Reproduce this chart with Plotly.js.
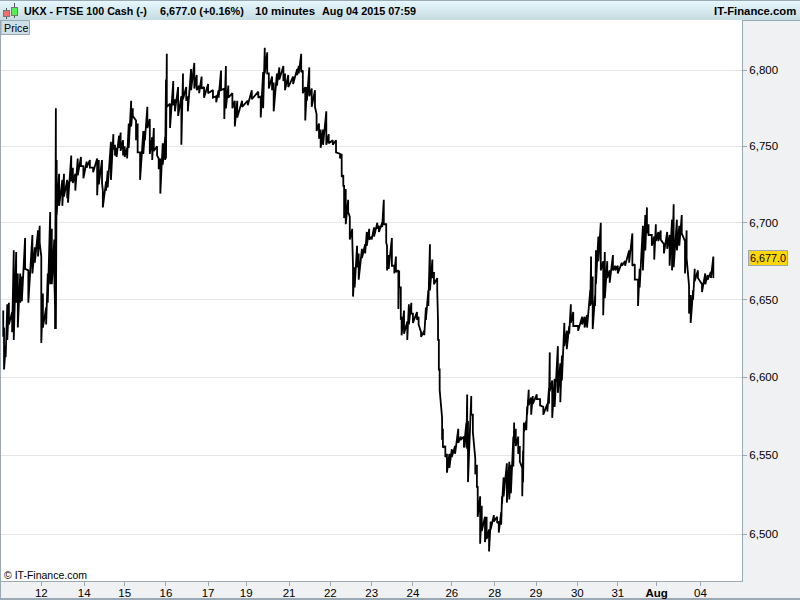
<!DOCTYPE html>
<html><head><meta charset="utf-8">
<script src="https://cdn.plot.ly/plotly-3.0.1.min.js"></script>
<style>
html,body{margin:0;padding:0;width:800px;height:600px;overflow:hidden;background:#eff1f3}
.abs{position:absolute;box-sizing:border-box}
#plot{position:absolute;left:0;top:0;width:800px;height:600px}
</style></head><body>
<div class="abs" style="left:0;top:0;width:800px;height:21px;background:linear-gradient(#e6f8fc,#c6dbe2);border-top:1px solid #9aa9b3;border-bottom:1px solid #9aa9b3"></div>
<div class="abs" style="left:0;top:20px;width:1px;height:580px;background:#9aa9b3"></div>
<div class="abs" style="left:0;top:598px;width:800px;height:2px;background:#9aa9b3"></div>
<div class="abs" style="left:6px;top:8px;width:1px;height:11px;background:#555"></div>
<div class="abs" style="left:3px;top:10px;width:7px;height:7px;background:#f07070;border:1px solid #777"></div>
<div class="abs" style="left:14px;top:3px;width:1px;height:15px;background:#555"></div>
<div class="abs" style="left:11px;top:7px;width:7px;height:9px;background:#55ee55;border:1px solid #777"></div>
<div id="plot"></div>
<script>
const bars = [
4,5,7,9,11,15,17,20,22,25, 27,31,35,40,43,47,49,51,53,57,
59,62,64,67,68,69,70,73,77,79, 83,84,88,90,93,96,100,103,107,111,
115,120,122,126,127,131,133,137,140,142, 144,147,149,152,154,157,159,162,164,168,
170,173,177,179,182,185,188,190,194,196, 198,201,204,205,206,210,214,216,220,224,
226,230,232,236,240,243,246,249,252,257, 263,267,270,273,277,279,282,287,290,293,
299,306,311,319,322,325,327,330,332,336, 338,342,345,350,352,356,362,367,369,372,
374,377,379,382,385,389,391,394,396,399, 403,406,411,415,420,422,424,425,427,430,
432,435,436,438,441,443,447,451,453,456, 459,462,466,468,472,474,477,478,480,484,
487,489,492,493,495,496,499,503,505,508, 510,515,517,520,524,526,529,531,534,536,
540,541,542,543,546,547,550,552,555,558, 562,566,569,573,576,577,578,582,584,587,
589,590,593,595,599,601,604,606,610,614, 616,619,620,622,626,629,631,634,635,637,
640,642,645,646,647,650,651,653,656,658, 663,667,671,676,678,679,682,685,689,692,
694,697,700,703,705,708,714,719,722,725, 729,730,732,735,736,739,742,745,747,750,
753,757,760,763,768,772,777,781,784,788, 790,794,797,799,801,805,808,810,813,816,
820,824,827,830,832,836,839,842,846,848, 851,853,856,858,862,867,871,874,878,881
];
const highs = [
6643,6632,6620,6647,6648,6642,6682,6681,6667,6667, 6665,6690,6669,6692,6684,6695,6698,6678,6654,6645,
6667,6707,6696,6689,6644,6775,6741,6732,6728,6732, 6728,6727,6744,6736,6732,6742,6743,6737,6740,6741,
6736,6742,6741,6741,6721,6727,6734,6753,6758,6751, 6749,6757,6759,6754,6750,6749,6765,6780,6775,6767,
6765,6746,6760,6760,6776,6768,6756,6762,6750,6742, 6742,6752,6756,6794,6811,6778,6793,6781,6789,6783,
6798,6789,6783,6801,6805,6797,6790,6796,6789,6791, 6787,6783,6787,6800,6788,6803,6790,6785,6780,6780,
6780,6780,6787,6786,6783,6799,6815,6812,6798,6796, 6792,6798,6802,6803,6798,6797,6796,6801,6803,6811,
6800,6789,6789,6802,6788,6787,6771,6765,6761,6761, 6773,6758,6754,6754,6745,6745,6731,6724,6722,6715,
6704,6696,6671,6671,6685,6680,6683,6686,6694,6696, 6691,6697,6700,6698,6700,6715,6699,6685,6679,6690,
6672,6678,6669,6669,6658,6639,6643,6636,6647,6648, 6641,6642,6639,6629,6630,6645,6656,6686,6676,6668,
6664,6636,6624,6605,6574,6567,6556,6551,6551,6554, 6556,6567,6562,6562,6571,6589,6572,6588,6576,6548,
6544,6530,6524,6518,6511,6511,6503,6508,6512,6511, 6508,6514,6524,6536,6545,6546,6544,6562,6571,6567,
6562,6556,6542,6553,6571,6572,6581,6592,6587,6588, 6589,6586,6581,6583,6593,6616,6598,6599,6620,6609,
6614,6635,6630,6633,6647,6642,6633,6639,6639,6640, 6656,6678,6665,6653,6682,6691,6700,6675,6681,6675,
6669,6679,6672,6672,6674,6675,6682,6693,6673,6663, 6670,6698,6705,6710,6699,6692,6691,6699,6694,6695,
6686,6694,6692,6702,6712,6702,6698,6705,6688,6695, 6659,6653,6656,6670,6669,6660,6667,6666,6668,6678
];
const lows = [
6626,6605,6613,6624,6634,6629,6624,6648,6632,6648, 6649,6670,6648,6667,6674,6678,6687,6622,6632,6634,
6648,6660,6660,6667,6631,6631,6705,6711,6711,6717, 6716,6713,6727,6726,6721,6731,6737,6729,6736,6736,
6733,6718,6725,6726,6710,6721,6723,6728,6748,6744, 6743,6749,6747,6744,6743,6742,6749,6763,6770,6754,
6746,6728,6745,6754,6762,6745,6741,6747,6744,6735, 6719,6738,6741,6742,6776,6762,6777,6773,6770,6751,
6781,6780,6773,6787,6788,6787,6785,6788,6782,6785, 6782,6779,6782,6787,6768,6775,6782,6775,6763,6769,
6776,6777,6781,6782,6769,6775,6798,6798,6788,6787, 6773,6790,6794,6793,6787,6789,6791,6797,6798,6799,
6785,6767,6780,6783,6776,6776,6760,6755,6749,6751, 6751,6752,6751,6746,6742,6730,6724,6703,6699,6707,
6689,6691,6652,6658,6671,6663,6677,6680,6685,6689, 6689,6691,6696,6694,6697,6699,6687,6669,6670,6672,
6667,6668,6644,6658,6637,6627,6628,6624,6634,6641, 6635,6637,6634,6626,6627,6637,6646,6656,6664,6660,
6656,6624,6605,6592,6560,6555,6549,6539,6542,6549, 6551,6558,6560,6555,6555,6554,6533,6576,6565,6538,
6530,6511,6494,6502,6495,6497,6489,6503,6508,6507, 6501,6506,6519,6524,6520,6522,6526,6543,6558,6556,
6551,6546,6524,6533,6565,6566,6576,6582,6576,6583, 6586,6582,6576,6578,6583,6591,6574,6581,6590,6584,
6598,6620,6618,6628,6635,6633,6630,6634,6632,6632, 6646,6647,6631,6646,6660,6675,6669,6640,6651,6664,
6661,6669,6669,6667,6672,6672,6674,6672,6663,6646, 6658,6669,6682,6693,6692,6685,6676,6688,6688,6689,
6680,6683,6672,6669,6671,6682,6685,6693,6667,6677, 6641,6635,6650,6662,6664,6655,6660,6663,6664,6664
];
const dayTickBars = [51,104,154,205,257,304,357,408,459,510,558,611,662,713,763,811,865];
const dayTickLabels = ['12','14','15','16','17','19','21','22','23','24','26','28','29','30','31','<b>Aug</b>','04'];
const priceTicks = [6500,6550,6600,6650,6700,6750,6800];
const priceLabels = ['6,500','6,550','6,600','6,650','6,700','6,750','6,800'];
const lastPrice = 6677;

const xs = [], ys = [];
bars.forEach((b,i)=>{ xs.push(b,b); ys.push(highs[i],lows[i]); });

const W=800,H=600,L=1,R=742,T=20,B=581;
const px = p => (p-L)/(R-L);
const py = p => (B-p)/(B-T);
const fam = '"Liberation Sans",Arial,sans-serif';
const font = {family:fam,size:11.5,color:'#000'};
const sized = s => ({family:fam,size:s,color:'#000'});
const note = (x,y,text,size,extra={}) => Object.assign({xref:'paper',yref:'paper',x:px(x),y:py(y),text,showarrow:false,xanchor:'left',yanchor:'middle',align:'left',font:sized(size),borderpad:0},extra);

Plotly.newPlot('plot',[{
  type:'scatter',mode:'lines',x:xs,y:ys,
  line:{color:'#000',width:1.8,shape:'linear'},hoverinfo:'skip'
}],{
  width:W,height:H,
  margin:{l:L,r:W-R,t:T,b:H-B,pad:0},
  paper_bgcolor:'rgba(0,0,0,0)',plot_bgcolor:'#fff',
  showlegend:false,font,
  xaxis:{type:'linear',range:[1.235,916.4],tickmode:'array',tickvals:dayTickBars,ticktext:dayTickLabels,
    ticks:'outside',ticklen:4,tickwidth:1,tickcolor:'#9aa9b3',showgrid:false,zeroline:false,
    showline:true,linecolor:'#9aa9b3',linewidth:1,tickfont:font,tickangle:0,ticklabelstandoff:-3},
  yaxis:{type:'log',side:'right',range:[Math.log10(6470)+3e-5,Math.log10(6833)+3e-5],tickmode:'array',tickvals:priceTicks,ticktext:priceLabels,
    ticks:'outside',ticklen:4,tickwidth:1,tickcolor:'#9aa9b3',gridcolor:'#e6e6e6',gridwidth:1,zeroline:false,
    showline:true,linecolor:'#9aa9b3',linewidth:1,tickfont:font},
  shapes:[{type:'rect',xref:'paper',yref:'paper',x0:px(1),x1:px(29.5),y0:py(34.5),y1:py(20.5),
    fillcolor:'#cddfe7',line:{color:'#9aa9b3',width:1},layer:'above'}],
  annotations:[
    note(23,11,'<b>UKX - FTSE 100 Cash (-)</b>',10.7),
    note(159,11,'<b>6,677.0 (+0.16%)</b>',10.9),
    note(254,11,'<b>10 minutes</b>',11.5),
    note(321,11,'<b>Aug 04 2015 07:59</b>',10.85),
    note(797,11,'<b>IT-Finance.com</b>',11.3,{xanchor:'right'}),
    note(3,27.5,'Price',10.7),
    note(3,575,'© IT-Finance.com',10.5),
    {xref:'paper',yref:'y',x:px(748),y:Math.log10(lastPrice),text:'6,677.0',showarrow:false,xanchor:'left',yanchor:'middle',
     font:sized(10.8),bgcolor:'#ffd60a',bordercolor:'#9aa9b3',borderwidth:1,borderpad:1}
  ]
},{displayModeBar:false,staticPlot:true});
</script>
</body></html>
